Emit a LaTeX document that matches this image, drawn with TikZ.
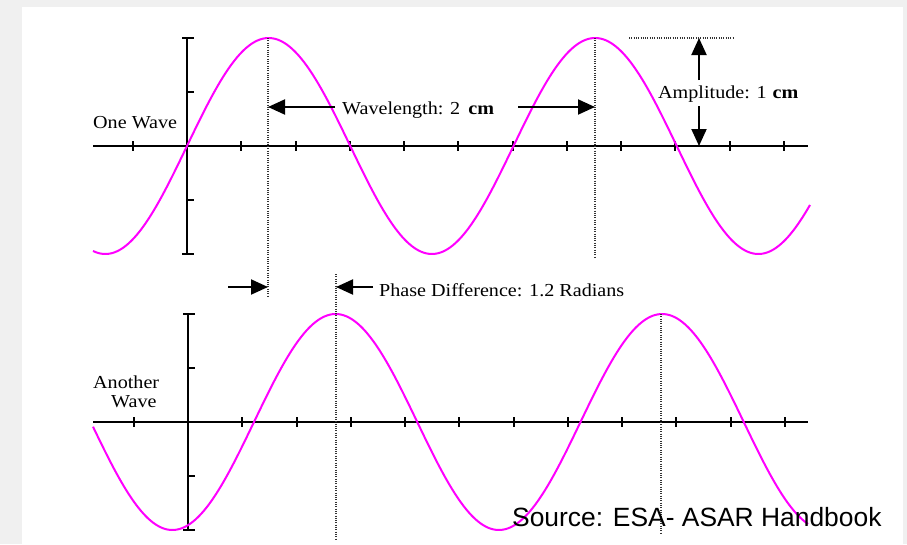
\documentclass[tikz,border=0pt]{standalone}
\usepackage{fontspec}
\setmainfont{Liberation Serif}
\newfontfamily\labelfont[FakeStretch=1.1]{Liberation Serif}
\newfontfamily\srcfont{Liberation Sans}
\usetikzlibrary{arrows.meta}
\definecolor{wavemag}{HTML}{FF00FF}
\definecolor{pagegray}{HTML}{F0F0F0}
\begin{document}
\begin{tikzpicture}[x=1pt,y=-1pt,
  axisline/.style={line width=2pt,black},
  wave/.style={line width=2pt,wavemag},
  guide/.style={line width=1.2pt,black!80,dash pattern=on 1pt off 1.3pt},
  dimarrow/.style={line width=2pt,-{Triangle[length=17pt,width=15pt]}},
  lbl/.style={inner sep=0pt,font=\labelfont\fontsize{18.3}{20}\selectfont},
  srclbl/.style={inner sep=0pt,font=\srcfont\fontsize{26.4}{30}\selectfont}]
% background
\fill[pagegray] (0,0) rectangle (907,544);
\fill[white] (22,7) rectangle (903,544);
\useasboundingbox (0,0) rectangle (907,544);

% ---------- top graph ----------
\draw[axisline] (93,146) -- (808,146);
\foreach \k in {-1,...,11} \draw[axisline] ({187+54.25*\k},141) -- ({187+54.25*\k},151);
\draw[axisline] (187,38) -- (187,254);
\foreach \yy in {38,254} \draw[axisline] (182,\yy) -- (194,\yy);
\foreach \yy in {92,200} \draw[axisline] (187,\yy) -- (194,\yy);
\draw[wave] plot[domain=93:810,samples=300] (\x,{146-108*sin((\x-187)/326.5*360)});

% ---------- bottom graph ----------
\draw[axisline] (93,422) -- (808,422);
\foreach \k in {-1,...,11} \draw[axisline] ({188+54.25*\k},417) -- ({188+54.25*\k},427);
\draw[axisline] (188,314) -- (188,530);
\foreach \yy in {314,530} \draw[axisline] (183,\yy) -- (195,\yy);
\foreach \yy in {368,476} \draw[axisline] (188,\yy) -- (195,\yy);
\draw[wave] plot[domain=93:808,samples=300] (\x,{422-108*sin((\x-254)/326.5*360)});

% ---------- guide lines ----------
\coordinate (p1top) at (268,38);
\coordinate (p1bot) at (268,296);
\coordinate (p2top) at (595,38);
\coordinate (p2bot) at (595,257);
\coordinate (ampL) at (629,38);
\coordinate (ampR) at (733,38);
\coordinate (q1top) at (336,274);
\coordinate (q1bot) at (336,540);
\coordinate (q2top) at (661,314);
\coordinate (q2bot) at (661,533);
\draw[guide] (p1top) -- (p1bot);
\draw[guide] (p2top) -- (p2bot);
\draw[guide] (ampL) -- (ampR);
\draw[guide] (q1top) -- (q1bot);
\draw[guide] (q2top) -- (q2bot);

% ---------- labels ----------
\node[lbl,anchor=base west] (onewave) at (93,128) {One Wave};
\node[lbl,anchor=base west] (another) at (93,388) {Another};
\node[lbl,anchor=base west] (anotherb) at (111,407) {Wave};
\node[lbl,anchor=base west] (wavelen) at (342,114) {Wavelength: 2\hspace{0.45em}\textbf{cm}};
\node[lbl,anchor=base west] (amp) at (658,98) {Amplitude: 1\hspace{0.33em}\textbf{cm}};
\node[lbl,anchor=base west] (phase) at (379,296) {Phase Difference: 1.2 Radians};

% ---------- dimension arrows ----------
\coordinate (wlA) at (335,107);
\coordinate (wlAt) at (268,107);
\coordinate (wlB) at (518,107);
\coordinate (wlBt) at (595,107);
\draw[dimarrow] (wlA) -- (wlAt);
\draw[dimarrow] (wlB) -- (wlBt);
\coordinate (amU) at (699,80);
\coordinate (amUt) at (699,38);
\coordinate (amD) at (699,106);
\coordinate (amDt) at (699,146);
\draw[dimarrow] (amU) -- (amUt);
\draw[dimarrow] (amD) -- (amDt);
\coordinate (phA) at (228,287);
\coordinate (phAt) at (268,287);
\coordinate (phB) at (373,287);
\coordinate (phBt) at (336,287);
\draw[dimarrow] (phA) -- (phAt);
\draw[dimarrow] (phB) -- (phBt);

% ---------- source ----------
\node[srclbl,anchor=base west] (source) at (512,526) {Source: ESA- ASAR Handbook};
\end{tikzpicture}
\end{document}
